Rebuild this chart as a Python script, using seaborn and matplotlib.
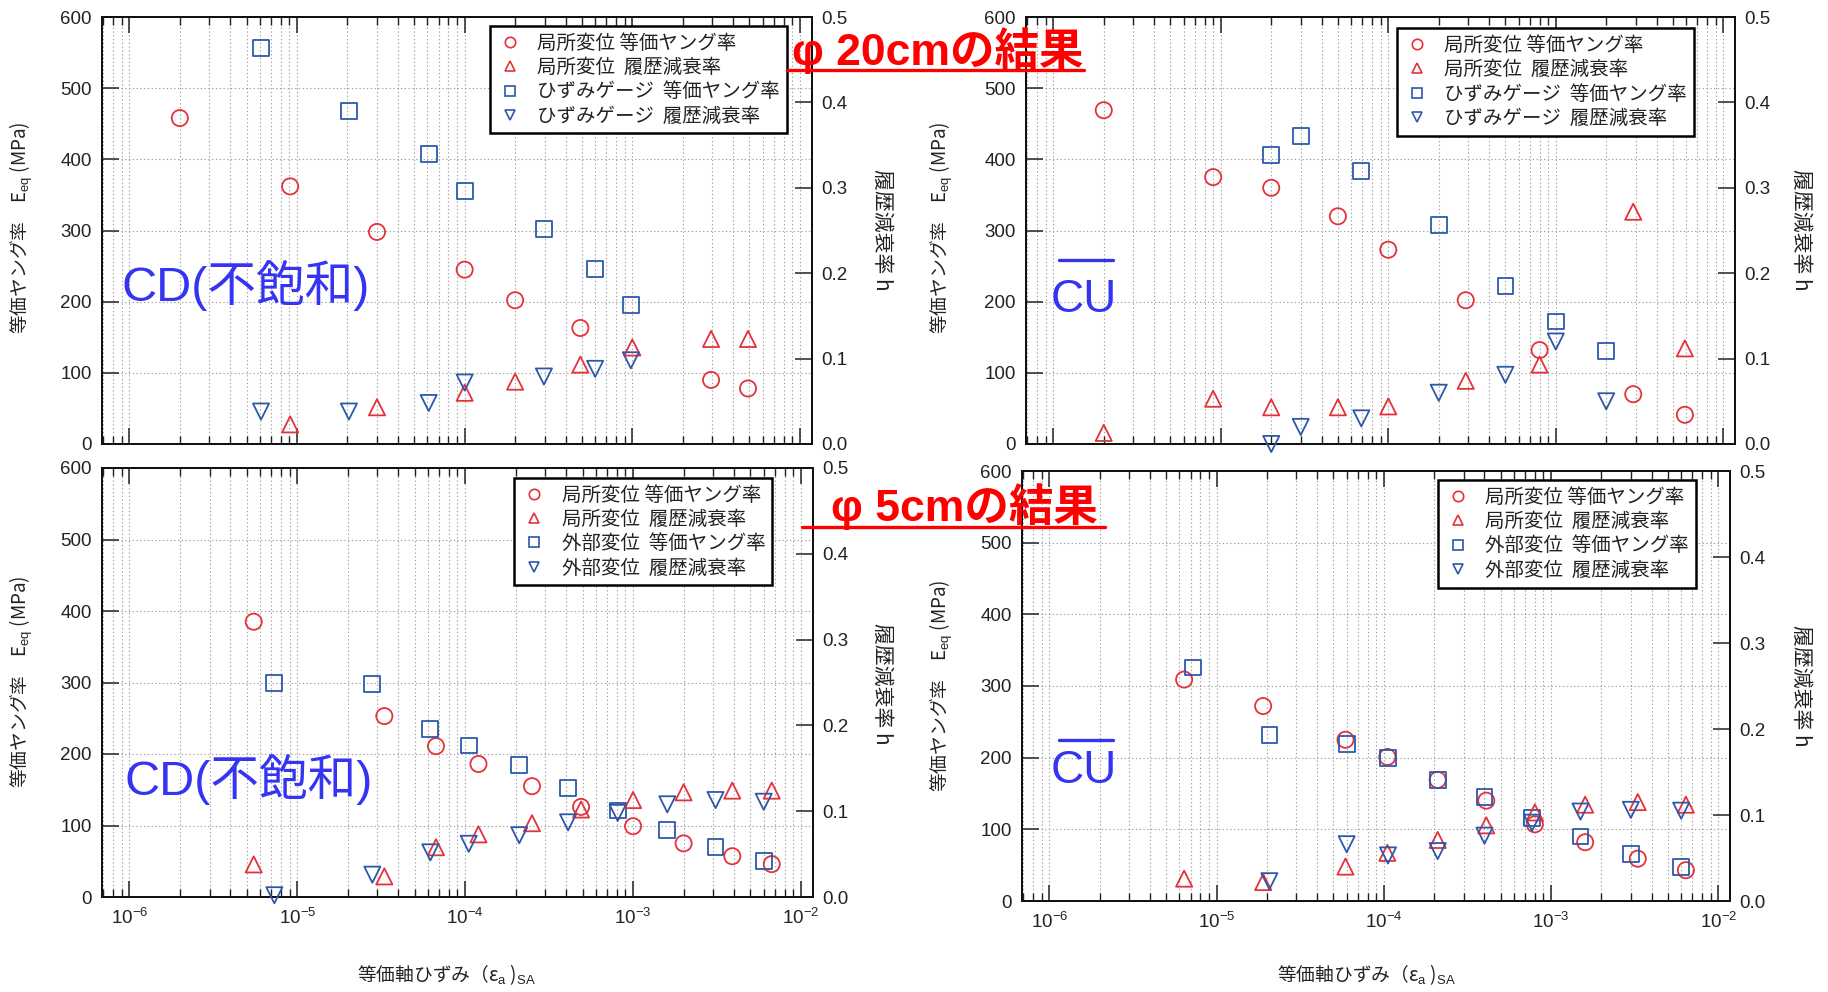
import numpy as np
import pandas as pd
import matplotlib
matplotlib.use("Agg")
import matplotlib.pyplot as plt
import seaborn as sns
from matplotlib.ticker import LogLocator, MultipleLocator, FormatStrFormatter, NullFormatter
from matplotlib.lines import Line2D

# ---------------- data ----------------
# top-left : phi 20cm, CD (unsaturated)
tl_loc_E_x = [2.0e-6, 9.1e-6, 3.0e-5, 1.0e-4, 2.0e-4, 4.9e-4, 2.95e-3, 4.9e-3]
tl_loc_E = [458, 362, 298, 245, 202, 163, 90, 78]
tl_loc_h_x = [9.1e-6, 3.0e-5, 1.0e-4, 2.0e-4, 4.9e-4, 1.0e-3, 2.95e-3, 4.9e-3]
tl_loc_h = [0.023, 0.043, 0.060, 0.073, 0.093, 0.113, 0.123, 0.123]
tl_sg_x = [6.1e-6, 2.04e-5, 6.1e-5, 1.0e-4, 2.97e-4, 6.0e-4, 9.8e-4]
tl_sg_E = [556, 468, 408, 355, 302, 246, 195]
tl_sg_h = [0.038, 0.038, 0.048, 0.072, 0.079, 0.088, 0.098]

# top-right : phi 20cm, CU
tr_loc_x = [2.0e-6, 9.0e-6, 2.0e-5, 5.0e-5, 1.0e-4, 2.9e-4, 8.0e-4, 2.9e-3, 5.9e-3]
tr_loc_E = [469, 375, 360, 320, 273, 202, 132, 70, 41]
tr_loc_h = [0.013, 0.053, 0.043, 0.043, 0.044, 0.074, 0.093, 0.272, 0.112]
tr_sg_x = [2.0e-5, 3.0e-5, 6.9e-5, 2.0e-4, 5.0e-4, 1.0e-3, 2.0e-3]
tr_sg_E = [406, 433, 384, 308, 222, 172, 131]
tr_sg_h = [0.0, 0.020, 0.030, 0.060, 0.081, 0.120, 0.050]

# bottom-left : phi 5cm, CD (unsaturated)
bl_loc_x = [5.5e-6, 3.3e-5, 6.7e-5, 1.2e-4, 2.5e-4, 4.9e-4, 1.0e-3, 2.0e-3, 3.9e-3, 6.7e-3]
bl_loc_E = [385, 253, 211, 186, 155, 126, 99, 75, 57, 46]
bl_loc_h = [0.038, 0.024, 0.058, 0.073, 0.086, 0.102, 0.113, 0.122, 0.124, 0.124]
bl_ext_x = [7.3e-6, 2.8e-5, 6.2e-5, 1.05e-4, 2.1e-4, 4.1e-4, 8.1e-4, 1.6e-3, 3.1e-3, 6.0e-3]
bl_ext_E = [299, 298, 235, 212, 185, 152, 121, 94, 70, 50]
bl_ext_h = [0.002, 0.026, 0.052, 0.062, 0.072, 0.087, 0.098, 0.108, 0.113, 0.111]

# bottom-right : phi 5cm, CU
br_loc_x = [6.4e-6, 1.9e-5, 5.9e-5, 1.05e-4, 2.1e-4, 4.1e-4, 8.0e-4, 1.6e-3, 3.3e-3, 6.4e-3]
br_loc_E = [309, 272, 225, 201, 169, 140, 107, 82, 59, 43]
br_loc_h = [0.026, 0.022, 0.040, 0.056, 0.071, 0.088, 0.103, 0.112, 0.115, 0.112]
br_ext_E_x = [7.2e-6, 2.07e-5, 6.0e-5, 1.06e-4, 2.1e-4, 4.0e-4, 7.7e-4, 1.5e-3, 3.0e-3, 6.0e-3]
br_ext_E = [326, 232, 219, 200, 169, 145, 116, 90, 66, 47]
br_ext_h_x = [2.07e-5, 6.0e-5, 1.06e-4, 2.1e-4, 4.0e-4, 7.7e-4, 1.5e-3, 3.0e-3, 6.0e-3]
br_ext_h = [0.023, 0.066, 0.053, 0.058, 0.076, 0.091, 0.104, 0.106, 0.105]

labels_top = ["局所変位 等価ヤング率", "局所変位  履歴減衰率",
              "ひずみゲージ  等価ヤング率", "ひずみゲージ  履歴減衰率"]
labels_bot = ["局所変位 等価ヤング率", "局所変位  履歴減衰率",
              "外部変位  等価ヤング率", "外部変位  履歴減衰率"]
y_ticks_E = [0, 100, 200, 300, 400, 500, 600]
y_ticks_h = [0.0, 0.1, 0.2, 0.3, 0.4, 0.5]

# ---------------- style ----------------
sns.set_style("ticks")
plt.rcParams['font.family'] = ['Liberation Sans', 'Noto Sans CJK JP', 'DejaVu Sans']
plt.rcParams['mathtext.fontset'] = 'custom'
plt.rcParams['mathtext.rm'] = 'Liberation Sans'
plt.rcParams['mathtext.it'] = 'Liberation Sans:italic'
plt.rcParams['mathtext.bf'] = 'Liberation Sans:bold'

RED = '#E5323A'
BLUE = '#2D58AA'
TXT_BLUE = '#3434F2'
ANN_RED = '#FF0000'
MS = 135
MLW = 1.3

W, H = 1828, 992
fig = plt.figure(figsize=(W / 100, H / 100), dpi=100)


def fx(px):
    return px / W


def fy(py):
    return (H - py) / H


def panel(rect, lx, lE, lhx, lh, bEx, bE, bhx, bh, labels, anchor, bottom_labels):
    ax = fig.add_axes(rect)
    ax.set_xscale('log')
    ax2 = ax.twinx()
    common = dict(s=MS, linewidth=MLW, legend=False, clip_on=False, zorder=4)
    sns.scatterplot(x=lx, y=lE, ax=ax, marker='o', color=RED, facecolor='none',
                    edgecolor=RED, **common)
    sns.scatterplot(x=bEx, y=bE, ax=ax, marker='s', color=BLUE, facecolor='none',
                    edgecolor=BLUE, **dict(common, s=MS * 0.95))
    sns.scatterplot(x=lhx, y=lh, ax=ax2, marker='^', color=RED, facecolor='none',
                    edgecolor=RED, **common)
    sns.scatterplot(x=bhx, y=bh, ax=ax2, marker='v', color=BLUE, facecolor='none',
                    edgecolor=BLUE, **common)

    ax.set_xlim(10 ** -6.165, 10 ** -1.93)
    ax.set_ylim(0, 600)
    ax2.set_ylim(0, 0.5)
    ax.xaxis.set_major_locator(LogLocator(base=10, numticks=20))
    ax.xaxis.set_minor_locator(LogLocator(base=10, subs=np.arange(2, 10) * 1.0, numticks=100))
    ax.xaxis.set_minor_formatter(NullFormatter())
    ax.set_yticks(y_ticks_E)
    ax.set_yticklabels([str(v) for v in y_ticks_E])
    ax2.set_yticks(y_ticks_h)
    ax2.yaxis.set_major_formatter(FormatStrFormatter('%.1f'))
    ax.set_xlabel('')
    ax.set_ylabel('')
    ax2.set_ylabel('')

    ax.grid(which='both', axis='x', ls=(0, (1.2, 2.2)), color='#a0a0a0', lw=0.8)
    ax.grid(which='major', axis='y', ls=(0, (1.2, 2.2)), color='#a0a0a0', lw=0.8)
    ax.set_axisbelow(True)

    ax.tick_params(axis='x', which='both', direction='in', top=True, bottom=True,
                   labelbottom=bottom_labels, labelsize=13.5, pad=8, colors='#222222')
    ax.tick_params(axis='x', which='major', length=11.5, width=1.1)
    ax.tick_params(axis='x', which='minor', length=5.5, width=1.0)
    ax.tick_params(axis='y', which='major', direction='in', left=True, right=False,
                   length=12, width=1.1, labelsize=13.5, pad=7, colors='#222222')
    ax2.tick_params(axis='y', which='major', direction='in', right=True, left=False,
                    length=12, width=1.1, labelsize=13.5, pad=7, colors='#222222')
    for a in (ax, ax2):
        for sp in a.spines.values():
            sp.set_linewidth(1.4)
            sp.set_color('#111111')

    handles = [
        Line2D([], [], ls='', marker='o', mfc='none', mec=RED, ms=7.5, mew=1.2),
        Line2D([], [], ls='', marker='^', mfc='none', mec=RED, ms=7.5, mew=1.2),
        Line2D([], [], ls='', marker='s', mfc='none', mec=BLUE, ms=7, mew=1.2),
        Line2D([], [], ls='', marker='v', mfc='none', mec=BLUE, ms=7.5, mew=1.2),
    ]
    leg = ax2.legend(handles, labels, loc='upper right', bbox_to_anchor=anchor,
                     prop={'family': ['Noto Sans CJK JP'], 'size': 14},
                     frameon=True, fancybox=False, framealpha=1, edgecolor='black',
                     borderpad=0.35, labelspacing=0.17, handletextpad=0.7,
                     handlelength=1.4, borderaxespad=0)
    leg.get_frame().set_linewidth(1.8)
    for t in leg.get_texts():
        t.set_color('#222222')
    leg.set_zorder(10)
    return ax, ax2


panel([fx(101.7), fy(444), fx(710), 427 / H], tl_loc_E_x, tl_loc_E, tl_loc_h_x, tl_loc_h,
      tl_sg_x, tl_sg_E, tl_sg_x, tl_sg_h, labels_top, (0.965, 0.979), False)
panel([fx(1025.7), fy(444), fx(709.3), 427 / H], tr_loc_x, tr_loc_E, tr_loc_x, tr_loc_h,
      tr_sg_x, tr_sg_E, tr_sg_x, tr_sg_h, labels_top, (0.942, 0.974), False)
panel([fx(101.7), fy(897), fx(711), 429 / H], bl_loc_x, bl_loc_E, bl_loc_x, bl_loc_h,
      bl_ext_x, bl_ext_E, bl_ext_x, bl_ext_h, labels_bot, (0.943, 0.977), True)
panel([fx(1021.7), fy(901), fx(708.3), 430 / H], br_loc_x, br_loc_E, br_loc_x, br_loc_h,
      br_ext_E_x, br_ext_E, br_ext_h_x, br_ext_h, labels_bot, (0.952, 0.979), True)

# ---------------- axis labels ----------------
ylab_E = "等価ヤング率　E$_{\\mathrm{eq}}$ (MPa)"
ylab_h = "履歴減衰率 h"
xlab = "等価軸ひずみ（ε$_{\\mathrm{a}}$ )$_{\\mathrm{SA}}$"
lab_kw = dict(fontsize=13.5, color='#222222', family=['Noto Sans CJK JP'])
for (x, y) in [(21, 228), (21, 682), (941, 228), (941, 686)]:
    fig.text(fx(x), fy(y), ylab_E, rotation=90, ha='center', va='center', **lab_kw)
for (x, y) in [(882, 230), (882, 684), (1801, 230), (1801, 686)]:
    fig.text(fx(x), fy(y), ylab_h, rotation=270, ha='center', va='center',
             **dict(lab_kw, fontsize=15))
for x in (357, 1277):
    fig.text(fx(x), fy(975), xlab, ha='left', va='center', **lab_kw)

# ---------------- annotations ----------------
ann_kw = dict(fontsize=32, fontweight='bold', color=ANN_RED,
              family=['Liberation Sans', 'Noto Sans CJK JP'], ha='left', va='baseline')
fig.text(fx(792), fy(65), "φ 20cmの結果", **ann_kw)
fig.add_artist(Line2D([fx(787), fx(1084)], [fy(70), fy(70)], color=ANN_RED, lw=2.4))
fig.text(fx(831), fy(521), "φ 5cmの結果", **ann_kw)
fig.add_artist(Line2D([fx(802), fx(1105)], [fy(527), fy(527)], color=ANN_RED, lw=2.4))

cd_kw = dict(fontsize=35, color=TXT_BLUE, family=['Liberation Sans', 'Noto Sans CJK JP'],
             ha='left', va='center')
fig.text(fx(121), fy(286), "CD(不飽和)", **cd_kw)
fig.text(fx(125), fy(780), "CD(不飽和)", **cd_kw)

cu_kw = dict(fontsize=33, color=TXT_BLUE, family=['Liberation Sans'], ha='left', va='center')
fig.text(fx(1051), fy(300), "CU", **cu_kw)
fig.add_artist(Line2D([fx(1059), fx(1113)], [fy(260), fy(260)], color=TXT_BLUE, lw=2.4))
fig.text(fx(1051), fy(771), "CU", **cu_kw)
fig.add_artist(Line2D([fx(1059), fx(1113)], [fy(740), fy(740)], color=TXT_BLUE, lw=2.4))

fig.savefig("out.png", dpi=100)
